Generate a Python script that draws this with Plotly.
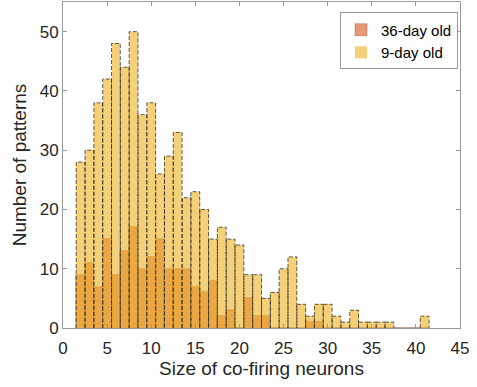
import plotly.graph_objects as go

# Bin centres (bin width 1)
sizes = list(range(2, 42))
# 9-day old counts
young9 = [28, 30, 38, 42, 48, 44, 50, 36, 38, 26, 29, 33, 22, 23, 20, 15, 17, 15, 14, 9,
          9, 5, 6, 10, 12, 4, 2, 4, 4, 2, 1, 3, 1, 1, 1, 1, 0, 0, 0, 2]
# 36-day old counts
old36 = [9, 11, 7, 15, 9, 13, 17, 10, 12, 15, 10, 10, 10, 7, 6, 8, 2, 3, 0, 5,
         2, 2, 0, 0, 0, 0, 1, 1, 0, 0, 0, 0, 0, 0, 0, 0, 0, 0, 0, 0]

x_ticks = [0, 5, 10, 15, 20, 25, 30, 35, 40, 45]
y_ticks = [0, 10, 20, 30, 40, 50]

FONT = "Liberation Sans, Arial, sans-serif"
fig = go.Figure()
fig.add_trace(go.Bar(
    x=sizes, y=old36, width=1, name="36-day old",
    marker=dict(color="rgba(217,83,25,0.6)",
                line=dict(color="rgba(120,55,25,0.45)", width=0.7)),
))
fig.add_trace(go.Bar(
    x=sizes, y=young9, width=1, name="9-day old",
    marker=dict(color="rgba(237,177,32,0.6)",
                line=dict(color="rgba(0,0,0,0)", width=0)),
))

# dashed outlines for the 9-day bars, built from the data
ox, oy = [], []
for c, h in zip(sizes, young9):
    if h <= 0:
        continue
    ox += [c - 0.5, c - 0.5, c + 0.5, c + 0.5, None]
    oy += [0, h, h, 0, None]
fig.add_trace(go.Scatter(
    x=ox, y=oy, mode="lines", showlegend=False, hoverinfo="skip",
    line=dict(color="rgba(50,50,50,0.78)", width=1, dash="4px,2px"),
))

axis_common = dict(
    showline=True, linecolor="#999999", linewidth=1, mirror="ticks",
    ticks="inside", ticklen=4, tickcolor="#999999",
    showgrid=False, zeroline=False,
    tickfont=dict(family=FONT, size=17, color="#262626"),
)
fig.update_layout(
    width=477, height=387,
    margin=dict(l=63, r=17, t=2, b=59),
    paper_bgcolor="white", plot_bgcolor="white",
    barmode="overlay", bargap=0,
    font=dict(family=FONT, color="#262626"),
    xaxis=dict(range=[0, 45], tickvals=x_ticks, ticklabelstandoff=5,
               title=dict(text="Size of co-firing neurons",
                          font=dict(family=FONT, size=19, color="#262626"),
                          standoff=2),
               **axis_common),
    yaxis=dict(range=[0, 55], tickvals=y_ticks,
               title=dict(text="Number of patterns",
                          font=dict(family=FONT, size=19, color="#262626"),
                          standoff=8),
               **axis_common),
    legend=dict(x=0.995, xanchor="right", y=0.968, yanchor="top",
                bgcolor="white", bordercolor="#999999", borderwidth=1,
                font=dict(family=FONT, size=15, color="#000000"),
                traceorder="normal", tracegroupgap=0, itemwidth=30),
)
fig.write_html("out.html")
